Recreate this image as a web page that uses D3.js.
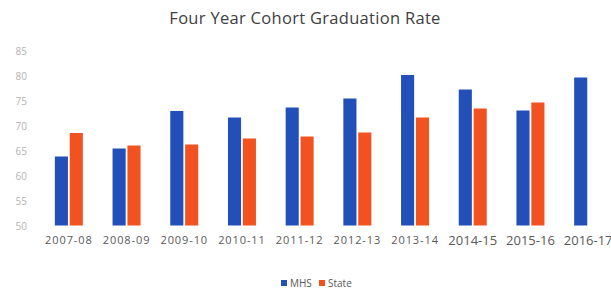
<!DOCTYPE html>
<html>
<head>
<meta charset="utf-8">
<script src="https://cdn.jsdelivr.net/npm/d3@7"></script>
<style>
  body { margin: 0; background: #fff; }
  svg { display: block; font-family: "Open Sans", "Noto Sans", sans-serif; }
</style>
</head>
<body>
<svg id="chart" width="611" height="294"></svg>
<script>
const years = ["2007-08", "2008-09", "2009-10", "2010-11", "2011-12", "2012-13", "2013-14", "2014-15", "2015-16", "2016-17"];
const mhs = [64.0, 65.6, 73.1, 71.8, 73.8, 75.6, 80.3, 77.4, 73.2, 79.8];
const state = [68.7, 66.2, 66.4, 67.6, 68.0, 68.8, 71.8, 73.6, 74.8, null];
const yTicks = [50, 55, 60, 65, 70, 75, 80, 85];
const seriesNames = ["MHS", "State"];
const colors = ["#2350b8", "#f2521f"];

const svg = d3.select("#chart");

const x = d3.scaleBand().domain(years).range([40, 617]);
const y = d3.scaleLinear().domain([50, 85]).range([226.5, 51.5]);
const inner = d3.scaleBand().domain(seriesNames).range([0, 28]).paddingInner(0.12);

// title
svg.append("text")
    .attr("x", 305)
    .attr("y", 24)
    .attr("text-anchor", "middle")
    .attr("font-size", "16.5px")
    .attr("fill", "#404040")
    .attr("letter-spacing", "0.3px")
    .text("Four Year Cohort Graduation Rate");

// y axis labels, no line
const yAxis = svg.append("g")
    .attr("transform", "translate(27,0)")
    .call(d3.axisLeft(y).tickValues(yTicks).tickSize(0).tickPadding(0));
yAxis.select(".domain").remove();
yAxis.selectAll("text")
    .attr("fill", "#b3b3b3")
    .attr("font-size", "10px")
    .attr("font-family", "Open Sans, sans-serif");

// bars
const rows = years.map((yr, i) => ({ year: yr, values: [mhs[i], state[i]] }));
const groups = svg.selectAll("g.grp")
    .data(rows)
    .enter()
    .append("g")
    .classed("grp", true)
    .attr("transform", d => `translate(${x(d.year) + x.bandwidth() / 2 - 14},0)`);

groups.selectAll("rect")
    .data(d => d.values.map((v, k) => ({ name: seriesNames[k], value: v, k: k })).filter(e => e.value != null))
    .enter()
    .append("rect")
    .attr("x", e => inner(e.name))
    .attr("width", inner.bandwidth())
    .attr("y", e => y(e.value))
    .attr("height", e => y(50) - y(e.value) - 1)
    .attr("fill", e => colors[e.k]);

// x labels (the last three are set bigger in the original)
const xAxis = svg.append("g")
    .attr("transform", "translate(0,230)")
    .call(d3.axisBottom(x).tickSize(0).tickPadding(6));
xAxis.select(".domain").remove();
xAxis.selectAll("text")
    .attr("fill", "#595959")
    .attr("font-family", "Open Sans, sans-serif")
    .attr("font-size", (d, i) => (i >= 7 ? "13px" : "11px"))
    .attr("letter-spacing", (d, i) => (i >= 7 ? "0px" : "0.9px"));

// legend
const legend = svg.append("g").attr("transform", "translate(281,284)");
const items = legend.selectAll("g")
    .data(seriesNames)
    .enter()
    .append("g")
    .attr("transform", (d, i) => `translate(${i * 38},0)`);
items.append("rect")
    .attr("x", 0).attr("y", -4)
    .attr("width", 6).attr("height", 6)
    .attr("fill", (d, i) => colors[i]);
items.append("text")
    .attr("x", 9).attr("y", 3)
    .attr("font-size", "10px")
    .attr("fill", "#595959")
    .text(d => d);
</script>
</body>
</html>
